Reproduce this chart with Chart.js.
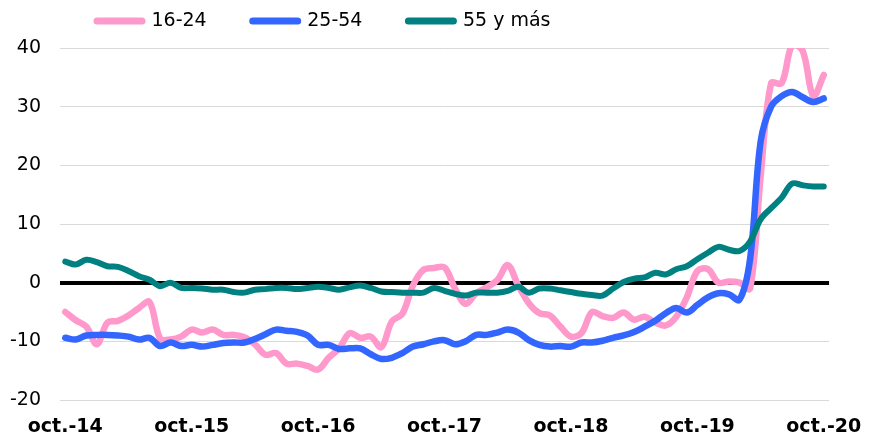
<!DOCTYPE html>
<html>
<head>
<meta charset="utf-8">
<script src="https://cdn.jsdelivr.net/npm/chart.js@4"></script>
<style>
  html, body { margin: 0; padding: 0; background: #fff; }
  #chart { display: block; }
</style>
</head>
<body>
<canvas id="chart" width="877" height="437"></canvas>
<script>
// monthly, oct.-14 .. oct.-20
const monthNames = ["oct.", "nov.", "dic.", "ene.", "feb.", "mar.", "abr.", "may.", "jun.", "jul.", "ago.", "sep."];
const startYear = 14;
const nMonths = 73;
const labels = [];
for (let i = 0; i < nMonths; i++) {
  const yr = startYear + Math.floor((i + 9) / 12);
  labels.push(monthNames[i % 12] + "-" + yr);
}

const young = [
  -5.0, -6.4, -7.5, -10.5, -6.8, -6.5, -5.6, -4.3, -3.3, -9.5,
  -9.7, -9.2, -8.0, -8.5, -8.0, -8.9, -8.9, -9.3, -10.5, -12.3,
  -12.0, -13.8, -13.8, -14.2, -14.8, -12.8, -11.2, -8.6, -9.4, -9.2,
  -11.0, -6.6, -5.3, -0.5, 2.2, 2.5, 2.6, -1.0, -3.6, -1.8,
  -0.8, 0.4, 3.0, -0.5, -3.5, -5.2, -5.6, -7.5, -9.2, -8.6,
  -5.0, -5.7, -6.0, -5.1, -6.3, -5.8, -6.8, -7.3, -5.8, -2.5,
  2.0, 2.3, 0.0, 0.2, 0.0, -1.0, 18.0, 34.0, 34.0, 40.5,
  39.5, 31.8, 35.4
];
const middle = [
  -9.4, -9.7, -9.0, -8.9, -8.9, -9.0, -9.2, -9.7, -9.4, -10.8,
  -10.2, -10.8, -10.6, -10.9, -10.6, -10.3, -10.2, -10.2, -9.6, -8.8,
  -8.0, -8.2, -8.4, -9.0, -10.6, -10.6, -11.3, -11.2, -11.2, -12.2,
  -13.0, -12.8, -12.0, -10.9, -10.5, -10.0, -9.8, -10.5, -10.0, -8.9,
  -8.9, -8.5, -8.0, -8.5, -9.8, -10.6, -10.9, -10.8, -10.9, -10.2,
  -10.2, -9.9, -9.4, -9.0, -8.4, -7.5, -6.5, -5.2, -4.3, -5.1,
  -3.8, -2.5, -1.8, -2.0, -2.9, 4.0, 24.0, 30.0, 31.8, 32.5,
  31.6, 30.8, 31.4
];
const older = [
  3.6, 3.1, 3.9, 3.5, 2.8, 2.7, 2.0, 1.1, 0.5, -0.6,
  0.0, -0.9, -0.9, -1.0, -1.2, -1.2, -1.6, -1.7, -1.2, -1.1,
  -0.9, -0.9, -1.1, -0.9, -0.7, -0.9, -1.2, -0.8, -0.5, -0.9,
  -1.5, -1.6, -1.7, -1.7, -1.7, -0.9, -1.4, -1.9, -2.2, -1.7,
  -1.7, -1.7, -1.4, -0.7, -1.7, -1.0, -1.0, -1.3, -1.6, -1.9,
  -2.1, -2.2, -1.0, 0.1, 0.7, 0.9, 1.7, 1.4, 2.3, 2.8,
  4.0, 5.1, 6.1, 5.6, 5.4, 7.0, 10.8, 12.7, 14.5, 16.9,
  16.6, 16.4, 16.4
];
const yTicks = [-20, -10, 0, 10, 20, 30, 40];

const FONT = "'DejaVu Sans', Verdana, sans-serif";

// move legend to where the original sits (left-ish, near top)
const legendPlace = {
  id: "legendPlace",
  afterLayout(chart) {
    const pad = chart.options.plugins.legend.labels.padding;
    chart.legend.left = 97 - pad;
    chart.legend.top = 11.5 - pad;
  }
};

function line(label, data, color, width, order) {
  return {
    label: label,
    data: data,
    borderColor: color,
    backgroundColor: color,
    borderWidth: width,
    borderCapStyle: "round",
    borderJoinStyle: "round",
    pointRadius: 0,
    tension: 0.35,
    fill: false,
    order: order
  };
}

new Chart(document.getElementById("chart"), {
  type: "line",
  data: {
    labels: labels,
    datasets: [
      line("16-24", young, "#FF99CC", 6.5, 3),
      line("25-54", middle, "#3366FF", 6.5, 2),
      line("55 y más", older, "#008080", 6, 1)
    ]
  },
  options: {
    responsive: false,
    animation: false,
    layout: { padding: { left: 0, right: 35, top: 0, bottom: 0 } },
    plugins: {
      tooltip: { enabled: false },
      legend: {
        position: "top",
        align: "start",
        maxHeight: 48,
        labels: {
          usePointStyle: true,
          pointStyle: "line",
          pointStyleWidth: 45,
          padding: 46,
          color: "#000",
          font: { family: FONT, size: 19 },
          sort: (a, b) => a.datasetIndex - b.datasetIndex,
          generateLabels: (chart) =>
            Chart.defaults.plugins.legend.labels.generateLabels(chart)
              .map((item) => Object.assign(item, { lineCap: "round", lineWidth: 7 }))
        }
      }
    },
    scales: {
      x: {
        offset: true,
        grid: { display: false, drawTicks: false },
        border: { display: false },
        afterFit: (scale) => { scale.height = 37; },
        ticks: {
          autoSkip: false,
          maxRotation: 0,
          minRotation: 0,
          padding: 15.5,
          color: "#000",
          font: { family: FONT, size: 19, weight: "bold" },
          callback: function (value, index) {
            return index % 12 === 0 ? labels[index] : "";
          }
        }
      },
      y: {
        min: yTicks[0],
        max: yTicks[yTicks.length - 1],
        border: { display: false },
        afterFit: (scale) => { scale.width = 60; },
        grid: {
          drawTicks: false,
          color: (ctx) => (ctx.tick && ctx.tick.value === 0 ? "#000" : "#d9d9d9"),
          lineWidth: (ctx) => (ctx.tick && ctx.tick.value === 0 ? 4 : 1)
        },
        afterBuildTicks: (scale) => {
          scale.ticks = yTicks.map((v) => ({ value: v }));
        },
        ticks: {
          padding: 19,
          color: "#000",
          font: { family: FONT, size: 19 }
        }
      }
    }
  },
  plugins: [legendPlace]
});
</script>
</body>
</html>
